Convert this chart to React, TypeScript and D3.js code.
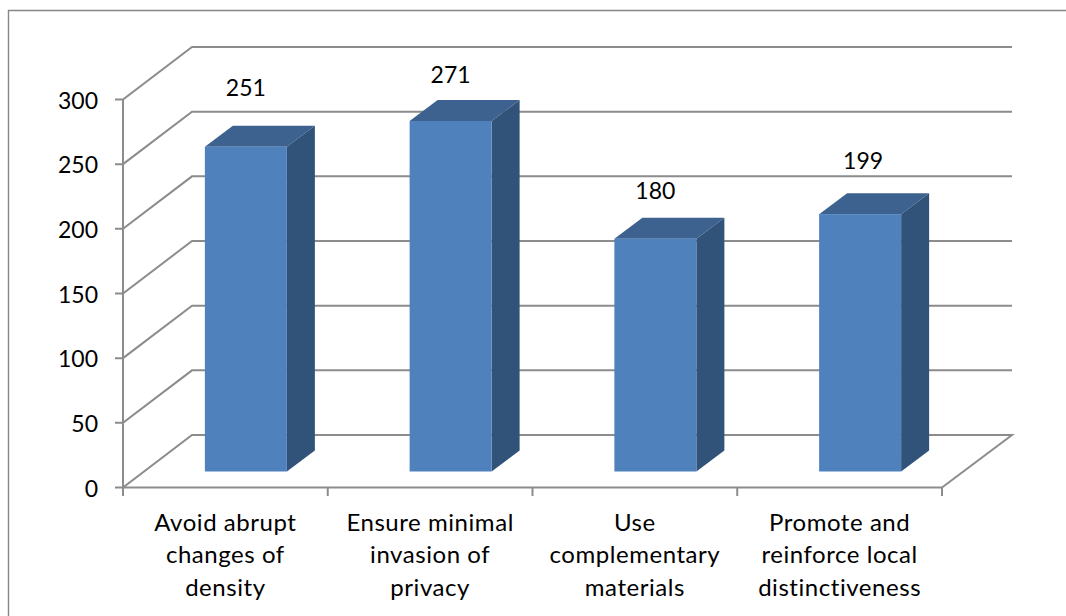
import React from "react";
import * as d3 from "d3";

const categories = [
  ["Avoid abrupt", "changes of", "density"],
  ["Ensure minimal", "invasion of", "privacy"],
  ["Use", "complementary", "materials"],
  ["Promote and", "reinforce local", "distinctiveness"],
];
const values = [251, 271, 180, 199];
const yTicks = [0, 50, 100, 150, 200, 250, 300];

const WIDTH = 1066;
const HEIGHT = 616;
const FONT = "Lato, 'Open Sans', sans-serif";
const GRID = "#8c8c8c";

export default function App() {
  const x = d3.scaleBand<number>().domain(d3.range(values.length)).range([123, 942]);
  const y = d3.scaleLinear().domain([0, 300]).range([487.5, 99.5]);
  const backDx = 69;
  const backDy = -52.5;
  const barW = 82;
  const barOffX = 20.5;
  const barOffY = -16;
  const sideDx = 28;
  const sideDy = -21;
  const labelY = [88, 75, 191, 161];
  const labelDx = [0, 0, 0, 3];
  const pts = (a: number[][]) => a.map((p) => p.join(",")).join(" ");

  return (
    <svg
      width={WIDTH}
      height={HEIGHT}
      style={{ position: "fixed", left: 0, top: 0, background: "#fff", fontFamily: FONT }}
    >
      <path d={`M8.5,${HEIGHT}V10.5H${WIDTH}`} fill="none" stroke="#868686" strokeWidth={1.4} />
      <g fill="none" stroke={GRID} strokeWidth={2}>
        {yTicks.map((t) => (
          <polyline
            key={t}
            points={pts([
              [115, y(t)],
              [123, y(t)],
              [123 + backDx, y(t) + backDy],
              [123 + backDx + 820, y(t) + backDy],
              ...(t === 0 ? [[942, y(0)]] : []),
            ])}
          />
        ))}
        <line x1={123} x2={123} y1={y(300)} y2={496} />
        <line x1={123} x2={942} y1={y(0)} y2={y(0)} />
        {d3.range(1, values.length + 1).map((i) => (
          <line key={i} x1={123 + i * x.bandwidth()} x2={123 + i * x.bandwidth()} y1={y(0)} y2={496} />
        ))}
      </g>
      {values.map((v, i) => {
        const left = x(i)! + (x.bandwidth() - barW) / 2 + barOffX;
        const right = left + barW;
        const bottom = y(0) + barOffY;
        const top = y(v) + barOffY;
        return (
          <g key={i}>
            <polygon
              points={pts([
                [left, top],
                [left + sideDx, top + sideDy],
                [right + sideDx, top + sideDy],
                [right, top],
              ])}
              fill="#3d6290"
            />
            <polygon
              points={pts([
                [right, top],
                [right + sideDx, top + sideDy],
                [right + sideDx, bottom + sideDy],
                [right, bottom],
              ])}
              fill="#325379"
            />
            <rect x={left} y={top} width={barW} height={bottom - top} fill="#4f81bd" />
            <text
              x={left + barW / 2 + labelDx[i]}
              y={labelY[i]}
              dy="0.36em"
              textAnchor="middle"
              fontSize={23}
              fill="#000"
            >
              {v}
            </text>
          </g>
        );
      })}
      {yTicks.map((t) => (
        <text key={t} x={98} y={y(t) + 1} dy="0.36em" textAnchor="end" fontSize={23} fill="#000">
          {t}
        </text>
      ))}
      {categories.map((lines, i) =>
        lines.map((l, j) => (
          <text
            key={j}
            x={x(i)! + x.bandwidth() / 2}
            y={522 + j * 32.5}
            dy="0.36em"
            textAnchor="middle"
            fontSize={24}
            letterSpacing={0.55}
            fill="#000"
          >
            {l}
          </text>
        ))
      )}
    </svg>
  );
}
